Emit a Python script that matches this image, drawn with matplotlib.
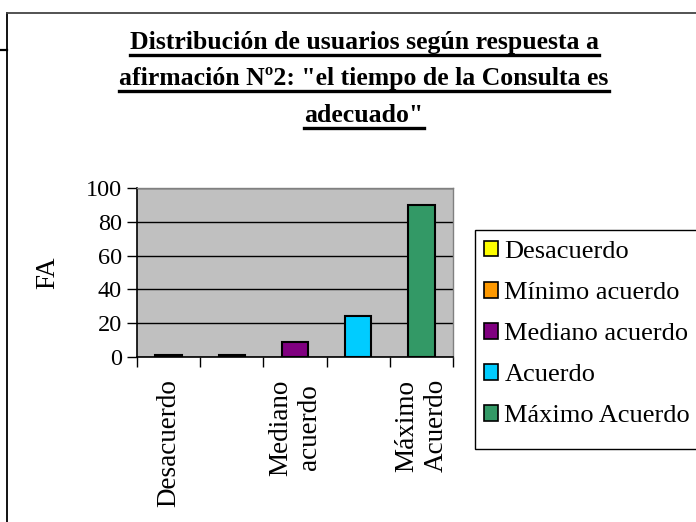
import matplotlib
matplotlib.use("Agg")
import matplotlib.pyplot as plt
from matplotlib.patches import Patch, Rectangle
from matplotlib.lines import Line2D
import numpy as np

categories = ["Desacuerdo", "Mínimo acuerdo", "Mediano acuerdo", "Acuerdo", "Máximo Acuerdo"]
values = [1, 1, 9, 24, 90]
tick_labels = ["Desacuerdo", "", "Mediano\nacuerdo", "", "Máximo\nAcuerdo"]
colors = ["#FFFF00", "#FF9900", "#800080", "#00CCFF", "#339966"]
title_lines = ["Distribución de usuarios según respuesta a",
               "afirmación Nº2: \"el tiempo de la Consulta es",
               "adecuado\""]
y_ticks = [0, 20, 40, 60, 80, 100]

plt.rcParams['font.family'] = ['Liberation Serif', 'DejaVu Serif']

W, H = 696, 522
fig = plt.figure(figsize=(W / 100, H / 100), dpi=100)

def fx(px):
    return px / W

def fy(py):
    return 1 - py / H

# chart frame
fig.add_artist(Line2D([fx(7), fx(7)], [fy(13), 0], color="black", lw=1.3, transform=fig.transFigure))
fig.add_artist(Line2D([fx(7), 1], [fy(13), fy(13)], color="#444444", lw=1.3, transform=fig.transFigure))
fig.add_artist(Line2D([0, fx(7)], [fy(50), fy(50)], color="black", lw=1.6, transform=fig.transFigure))

ax = fig.add_axes([fx(137), fy(357), fx(453) - fx(137), fy(188) - fy(357)])
ax.set_facecolor("#C0C0C0")
x = np.arange(len(categories))
ax.bar(x, values, width=0.42, color=colors, edgecolor="black", linewidth=1.5, zorder=3)
ax.set_xlim(-0.5, len(categories) - 0.5)
ax.set_ylim(0, 100)
ax.set_yticks(y_ticks)
ax.set_yticklabels([str(v) for v in y_ticks], fontsize=17.5)
ax.yaxis.grid(True, color="black", lw=1.0, zorder=1)
ax.set_axisbelow(True)
ax.set_xticks(x)
ax.set_xticklabels(tick_labels, rotation=90, fontsize=19.5, va="top", ha="center", multialignment="center")
ax.tick_params(axis="x", length=0, pad=16)
ax.set_xticks(np.arange(-0.5, len(categories), 1.0), minor=True)
ax.tick_params(axis="x", which="minor", length=7, width=1, direction="out", color="black")
ax.tick_params(axis="y", length=7, width=1, direction="out", pad=4)
for s in ["top", "right"]:
    ax.spines[s].set_color("#808080")
    ax.spines[s].set_linewidth(1.0)
for s in ["left", "bottom"]:
    ax.spines[s].set_color("black")
    ax.spines[s].set_linewidth(1.2)

fig.text(fx(48), fy(273), "FA", rotation=90, fontsize=19.5, ha="center", va="center")

# title with underline
title_y = [42, 79, 115]
title_texts = []
for line, ty in zip(title_lines, title_y):
    t = fig.text(fx(364), fy(ty), line, fontsize=18.5, fontweight="bold", ha="center", va="center")
    title_texts.append(t)

fig.canvas.draw()
renderer = fig.canvas.get_renderer()
for t in title_texts:
    bb = t.get_window_extent(renderer)
    yline = bb.y0 - 1
    fig.add_artist(Line2D([bb.x0 / W, bb.x1 / W], [yline / H, yline / H], color="black", lw=2.4, transform=fig.transFigure))

# legend box (extends beyond the right edge as in the reference)
fig.add_artist(Rectangle((fx(475), fy(449)), fx(740) - fx(475), fy(230) - fy(449),
                         facecolor="white", edgecolor="black", lw=1.0,
                         transform=fig.transFigure, clip_on=False, zorder=1))

handles = [Patch(facecolor=c, edgecolor="black", linewidth=1.2) for c in colors]
leg = fig.legend(handles, categories, loc="upper left", bbox_to_anchor=(fx(473), fy(230)),
                 bbox_transform=fig.transFigure, fontsize=19, frameon=False,
                 borderpad=0.42, labelspacing=0.72,
                 handlelength=0.52, handleheight=0.52, handletextpad=0.25, borderaxespad=0)
leg.set_zorder(2)

fig.savefig("out.png", dpi=100)
